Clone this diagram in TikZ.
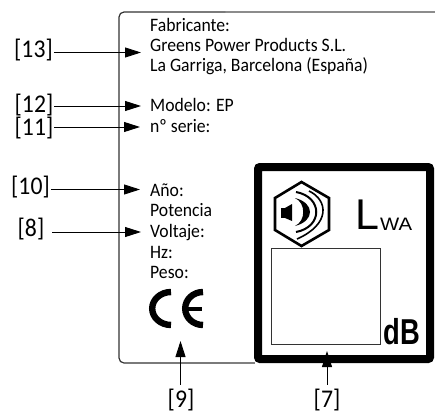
\documentclass[tikz,border=0pt]{standalone}
\usepackage{fontspec}
\setmainfont{Carlito}[FakeStretch=0.93]
\newfontfamily\plate{Liberation Sans}
\usetikzlibrary{arrows.meta}
\tikzset{
  platetext/.style={anchor=base west,inner sep=0pt,font=\fontsize{19}{20}\selectfont},
  reflabel/.style={inner sep=1pt,font=\fontsize{25.5}{26}\selectfont},
  pointer/.style={-{Triangle[length=16pt,width=10pt]},line width=.9pt},
  framepart/.style={line width=1.2pt,rounded corners=5pt}
}
\begin{document}
\begin{tikzpicture}[x=1pt,y=-1pt]
\useasboundingbox (0,0) rectangle (435,414);
% plate outline, open on the right
\draw[framepart,black!45] (435,12) -- (225,12);
\draw[framepart,black!80] (225,12) -- (119,12) -- (119,363) -- (230,363);
\draw[framepart,black!50] (230,363) -- (255,363);
% plate texts
\foreach \name/\y/\txt in {fab/32/Fabricante:,greens/52/Greens Power Products S.L.,garriga/72/{La Garriga, Barcelona (España)},modelo/111.5/Modelo: EP,serie/132/nº serie:,anyo/196/Año:,potencia/216/Potencia,voltaje/237/Voltaje:,hz/258/Hz:,peso/278/Peso:}{\node[platetext] (\name) at (150,\y) {\txt};}
% CE mark
\draw[line width=6.4pt] (171,292) arc[start angle=-90,end angle=-270,x radius=18.8,y radius=16.5];
\draw[line width=6.4pt] (203,292) arc[start angle=-90,end angle=-270,x radius=17.8,y radius=16.5];
\draw[line width=4.6pt] (186,309) -- (202,309);
% sound level box
\draw[line width=8pt,rounded corners=2pt] (258,167) rectangle (430,359);
\node[draw,line width=1pt,black!80,minimum width=109pt,minimum height=96pt,inner sep=0pt] (valuebox) at (325.5,296) {};
\node[anchor=base east,inner sep=0pt,xscale=.76,font=\plate\bfseries\fontsize{36}{36}\selectfont] (db) at (420,344) {dB};
\node[anchor=base west,inner sep=0pt,font=\plate\fontsize{43}{43}\selectfont] (lsym) at (355,229) {L};
\node[anchor=base west,inner sep=0pt,xscale=1.13,font=\plate\fontsize{18}{18}\selectfont] (wasym) at (380,230) {WA};
% hexagon with loudspeaker
\draw[line width=2.6pt] (301.5,182) -- (329,198) -- (329,230) -- (301.5,246) -- (275,230) -- (275,198) -- cycle;
\fill (281,208) rectangle (285,218);
\fill (285,208) -- (292,204) -- (292,221) -- (285,218) -- cycle;
\fill (295,198) .. controls (315,203) and (315,221) .. (295,226) .. controls (306,221) and (306,203) .. (295,198);
\draw[line width=2pt] (296,192) .. controls (323,197) and (323,227) .. (296,232);
\draw[line width=1.6pt] (309,191) .. controls (328,200) and (331,224) .. (297,239);
% reference labels
\foreach \name/\x/\y/\txt in {l13/33.5/50/{[13]},l12/34/105/{[12]},l11/34/128/{[11]},l10/30.5/187/{[10]},l8/31/229/{[8]},l9/181/400/{[9]},l7/327/400/{[7]}}{\node[reflabel] (\name) at (\x,\y) {\txt};}
\coordinate (t13) at (141,52.5);
\coordinate (t12) at (141,106);
\coordinate (t11) at (140,127);
\coordinate (t10) at (140,189.5);
\coordinate (t8) at (141,232);
\coordinate (t9) at (180.5,341);
\coordinate (t7) at (327,351);
\foreach \name in {13,12,11,10}{\draw[pointer] (l\name.east |- t\name) -- (t\name);}
\draw[pointer,shorten <=7pt] (l8.east |- t8) -- (t8);
\draw[pointer,shorten <=3pt] (l9.north -| t9) -- (t9);
\draw[pointer,shorten <=3pt] (l7.north) -- (t7);
\end{tikzpicture}
\end{document}
